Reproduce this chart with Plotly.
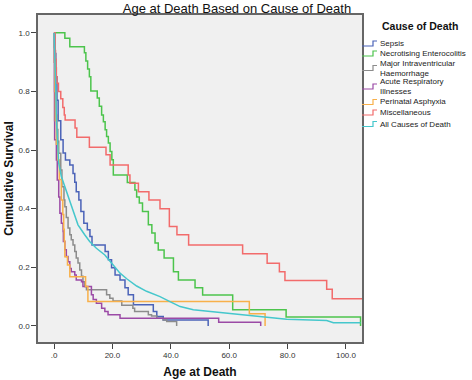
import plotly.graph_objects as go

# ---------------- data ----------------
causes = ["Sepsis", "Necrotising Enterocolitis", "Major Intraventricular Haemorrhage",
          "Acute Respiratory Illnesses", "Perinatal Asphyxia", "Miscellaneous",
          "All Causes of Death"]

sepsis_t = [0, 0.3, 0.6, 1.0, 1.4, 2.3, 3.1, 3.9, 5.4, 6.5, 7.1, 7.6, 8.5, 9.2, 10.2, 11.4,
            12.3, 13.0, 17.5, 18.6, 19.7, 20.9, 22.6, 24.3, 25.4, 27.2, 34.0, 35.2, 37.4, 52.8]
sepsis_s = [1.0, 0.93, 0.85, 0.77, 0.70, 0.635, 0.59, 0.566, 0.549, 0.52, 0.49, 0.458, 0.43, 0.39,
            0.35, 0.328, 0.305, 0.276, 0.254, 0.226, 0.198, 0.174, 0.157, 0.13, 0.106, 0.072,
            0.049, 0.032, 0.02, 0.0]

nec_t = [0, 3.7, 5.4, 10.4, 10.9, 11.5, 12.1, 12.6, 14.8, 15.5, 16.3, 16.9, 17.5, 18.0, 18.6,
         19.2, 19.8, 20.3, 25.1, 27.7, 28.3, 29.2, 30.3, 32.3, 33.5, 34.6, 35.7, 37.7, 40.9,
         42.6, 48.3, 50.9, 61.2, 79.5, 105.0]
nec_s = [1.0, 0.982, 0.953, 0.932, 0.904, 0.877, 0.85, 0.802, 0.778, 0.75, 0.72, 0.697, 0.669,
         0.646, 0.624, 0.595, 0.567, 0.515, 0.489, 0.464, 0.44, 0.419, 0.39, 0.345, 0.317,
         0.283, 0.259, 0.232, 0.185, 0.157, 0.13, 0.105, 0.055, 0.03, 0.0]

ivh_t = [0, 0.1, 0.2, 0.4, 0.7, 1.0, 1.3, 1.6, 2.3, 2.7, 3.4, 3.7, 4.2, 4.8, 5.4, 5.9, 6.5, 7.1,
         7.6, 8.2, 8.8, 9.4, 9.9, 10.5, 11.1, 18.0, 19.1, 20.2, 23.2, 27.0, 27.6, 32.3, 33.4,
         35.2, 37.4, 38.6, 42.0]
ivh_s = [1.0, 0.95, 0.9, 0.8, 0.72, 0.67, 0.63, 0.589, 0.532, 0.475, 0.43, 0.407, 0.37, 0.334,
         0.311, 0.294, 0.276, 0.254, 0.232, 0.215, 0.191, 0.169, 0.151, 0.134, 0.123, 0.106,
         0.094, 0.085, 0.07, 0.06, 0.049, 0.038, 0.034, 0.026, 0.02, 0.015, 0.0]

ari_t = [0, 0.05, 0.1, 0.15, 0.2, 0.8, 1.1, 1.6, 2.0, 2.5, 3.1, 3.2, 3.7, 4.2, 4.8, 5.4, 5.9,
         7.1, 7.6, 9.4, 9.9, 12.8, 13.4, 14.5, 16.3, 17.4, 18.5, 22.6, 56.4, 70.8]
ari_s = [1.0, 0.9, 0.8, 0.7, 0.635, 0.566, 0.498, 0.44, 0.384, 0.35, 0.322, 0.288, 0.26, 0.237,
         0.219, 0.196, 0.185, 0.174, 0.157, 0.151, 0.134, 0.106, 0.09, 0.077, 0.06, 0.049,
         0.038, 0.026, 0.012, 0.0]

pa_t = [0, 0.15, 0.3, 0.45, 0.8, 1.3, 1.8, 2.5, 3.0, 3.3, 3.5, 3.7, 4.6, 5.4, 10.8, 11.6,
        66.9, 72.3]
pa_s = [1.0, 0.90, 0.80, 0.70, 0.62, 0.566, 0.50, 0.43, 0.38, 0.33, 0.29, 0.236, 0.208, 0.168,
        0.134, 0.083, 0.041, 0.0]

misc_t = [0, 0.3, 0.5, 0.7, 0.8, 1.0, 1.5, 2.3, 3.0, 3.5, 3.8, 7.2, 7.8, 12.1, 17.8, 19.2,
          25.4, 26.0, 28.9, 32.5, 36.3, 39.5, 42.1, 46.1, 64.6, 73.0, 77.2, 79.1, 93.4, 95.3,
          105.5]
misc_s = [1.0, 0.94, 0.91, 0.88, 0.85, 0.828, 0.80, 0.775, 0.745, 0.72, 0.703, 0.675, 0.644,
          0.61, 0.584, 0.549, 0.515, 0.487, 0.458, 0.43, 0.40, 0.339, 0.311, 0.276, 0.246,
          0.214, 0.185, 0.155, 0.125, 0.093, 0.093]

all_t = [0, 0.34, 0.6, 0.8, 1.2, 1.6, 2.5, 3.7, 4.8, 5.9, 6.8, 8.2, 10.5, 12.2, 14.5, 17.4,
         19.9, 22.6, 25.0, 28.3, 31.7, 36.3, 39.7, 43.2, 47.7, 53.4, 61.4, 66.0, 71.7, 79.7,
         93.4, 95.7, 105.0]
all_s = [1.0, 0.91, 0.805, 0.703, 0.618, 0.555, 0.51, 0.475, 0.441, 0.407, 0.382, 0.345, 0.311,
         0.288, 0.265, 0.242, 0.212, 0.18, 0.16, 0.136, 0.118, 0.10, 0.083, 0.066, 0.055,
         0.049, 0.043, 0.038, 0.032, 0.023, 0.018, 0.011, 0.011]

x_tickvals = [0, 20, 40, 60, 80, 100]
x_ticktext = [".0", "20.0", "40.0", "60.0", "80.0", "100.0"]
y_tickvals = [0.0, 0.2, 0.4, 0.6, 0.8, 1.0]
y_ticktext = ["0.0", "0.2", "0.4", "0.6", "0.8", "1.0"]

colors = ["#4B63B8", "#4CC44C", "#8C8C8C", "#9B4AA6", "#F8B04A", "#F26B6B", "#45C7CC"]
series = [(sepsis_t, sepsis_s), (nec_t, nec_s), (ivh_t, ivh_s), (ari_t, ari_s),
          (pa_t, pa_s), (misc_t, misc_s), (all_t, all_s)]

# ---------------- figure ----------------
W, H = 472, 380
L, R, T, B = 38, 110, 15, 38
FONT = "Arial, Liberation Sans, sans-serif"

fig = go.Figure()
for name, (t, s), c in zip(causes, series, colors):
    fig.add_trace(go.Scatter(x=t, y=s, name=name, mode="lines",
                             line=dict(color=c, width=1.5,
                                       shape="linear" if name == "All Causes of Death" else "hv"),
                             showlegend=False, hoverinfo="skip"))

pw, ph = W - L - R, H - T - B
def px_x(px):
    return (px - L) / pw
def px_y(py):
    return (H - B - py) / ph

# manual legend (step glyph + wrapped label)
annotations = [dict(text="<b>Cause of Death</b>", x=px_x(380), y=px_y(26), xref="paper",
                    yref="paper", xanchor="left", yanchor="middle", showarrow=False,
                    font=dict(family=FONT, size=10.5, color="#111"))]
shapes = []
leg_y = [43.5, 53.5, 68, 86.5, 102, 112.5, 124]
for name, c, yc in zip(causes, colors, leg_y):
    if len(name) > 25:
        i = name.rfind(" ")
        label = name[:i] + "<br>" + name[i + 1:]
    else:
        label = name
    annotations.append(dict(text=label, x=px_x(377.5), y=px_y(yc), xref="paper", yref="paper",
                            xanchor="left", yanchor="middle", align="left", showarrow=False,
                            font=dict(family=FONT, size=8, color="#222")))
    x0, x1, x2 = px_x(362), px_x(373), px_x(377)
    ylo, yhi = px_y(yc + 2.5), px_y(yc - 2.5)
    shapes.append(dict(type="path", xref="paper", yref="paper",
                       path=f"M {x0},{ylo} L {x1},{ylo} L {x1},{yhi} L {x2},{yhi}",
                       line=dict(color=c, width=1.2)))

fig.update_layout(
    width=W, height=H, autosize=False,
    margin=dict(l=L, r=R, t=T, b=B, pad=0),
    paper_bgcolor="white", plot_bgcolor="#F0F0F0",
    font=dict(family=FONT, size=8, color="#333"),
    title=dict(text="Age at Death Based on Cause of Death", x=0.502, xref="container",
               xanchor="center", y=1 - 8 / H, yref="container", yanchor="middle",
               font=dict(family=FONT, size=13, color="#111")),
    xaxis=dict(range=[-5.5, 105.5], tickvals=x_tickvals, ticktext=x_ticktext,
               ticks="outside", ticklen=5, tickcolor="#444", showgrid=False, zeroline=False,
               showline=True, linecolor="#666", linewidth=1.5, mirror=True, automargin=False,
               tickfont=dict(family=FONT, size=8, color="#333"),
               title=dict(text="<b>Age at Death</b>", standoff=8,
                          font=dict(family=FONT, size=12, color="#111"))),
    yaxis=dict(range=[-0.055, 1.061], tickvals=y_tickvals, ticktext=y_ticktext,
               ticks="outside", ticklen=5, tickcolor="#444", showgrid=False, zeroline=False,
               showline=True, linecolor="#666", linewidth=1.5, mirror=True, automargin=False,
               tickfont=dict(family=FONT, size=8, color="#333"),
               title=dict(text="<b>Cumulative Survival</b>", standoff=2,
                          font=dict(family=FONT, size=12, color="#111"))),
    annotations=annotations, shapes=shapes,
)

fig.write_html("out.html", config={"responsive": False, "displayModeBar": False},
               post_script="document.body.style.margin='0';document.body.style.padding='0';")
